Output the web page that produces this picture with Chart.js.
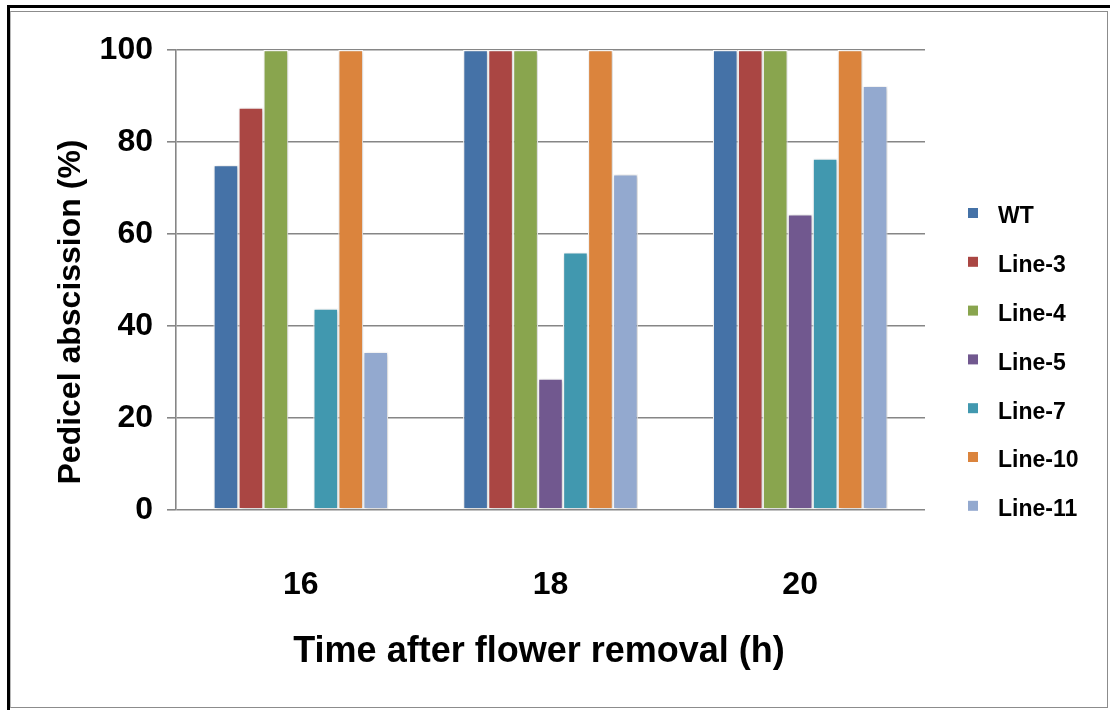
<!DOCTYPE html>
<html>
<head>
<meta charset="utf-8">
<script src="https://cdn.jsdelivr.net/npm/chart.js@4.4.1/dist/chart.umd.min.js"></script>
<style>
  html, body { margin: 0; padding: 0; background: #fff; }
  #wrap { position: relative; width: 1110px; height: 710px; overflow: hidden; }
  #frameDark {
    position: absolute; left: 7px; top: 5px; width: 1110px; height: 720px;
    border-left: 3px solid #000; border-top: 3px solid #000; box-sizing: border-box;
  }
  #frameLight {
    position: absolute; left: 10px; top: 11px; width: 1098px; height: 697px;
    border: 1.5px solid #8c8c8c; border-left-color: #b8b8b8; box-sizing: border-box;
  }
  #chart { position: absolute; left: 0; top: 0; }
</style>
</head>
<body>
<div id="wrap">
  <div id="frameDark"></div>
  <div id="frameLight"></div>
  <canvas id="chart" width="1110" height="710"></canvas>
</div>
<script>
// Hours after flower removal
const hours = ['16', '18', '20'];

// Pedicel abscission (%) per line
const wt     = [75,   100, 100];
const line3  = [87.5, 100, 100];
const line4  = [100,  100, 100];
const line5  = [0,    28.6, 64.3];
const line7  = [43.8, 56,  76.4];
const line10 = [100,  100, 100];
const line11 = [34.4, 73,  92.2];

const seriesNames = ['WT', 'Line-3', 'Line-4', 'Line-5', 'Line-7', 'Line-10', 'Line-11'];
const seriesValues = [wt, line3, line4, line5, line7, line10, line11];
const seriesColors = ['#4572A7', '#AA4643', '#89A54E', '#71588F', '#4198AF', '#DB843D', '#93A9CF'];

const yTicks = [0, 20, 40, 60, 80, 100];

const yTitle = 'Pedicel abscission (%)';
const xTitle = 'Time after flower removal (h)';

const FONT = '"Liberation Sans", Arial, sans-serif';

// soft drop shadow under each bar
const barShadow = {
  id: 'barShadow',
  beforeDatasetsDraw(chart) {
    const ctx = chart.ctx;
    ctx.save();
    ctx.shadowColor = 'rgba(0,0,0,0.22)';
    ctx.shadowBlur = 4;
    ctx.shadowOffsetX = 1;
    ctx.shadowOffsetY = 1;
  },
  afterDatasetsDraw(chart) {
    chart.ctx.restore();
  }
};

// axis titles and the series key on the right
const annotations = {
  id: 'annotations',
  afterDraw(chart) {
    const ctx = chart.ctx;
    ctx.save();
    ctx.fillStyle = '#000';
    ctx.textAlign = 'center';
    ctx.textBaseline = 'middle';
    ctx.font = 'bold 32px ' + FONT;
    ctx.translate(71, 312);
    ctx.rotate(-Math.PI / 2);
    ctx.fillText(yTitle, 0, 0);
    ctx.restore();

    ctx.save();
    ctx.fillStyle = '#000';
    ctx.textAlign = 'center';
    ctx.textBaseline = 'alphabetic';
    ctx.font = 'bold 36px ' + FONT;
    ctx.fillText(xTitle, 539, 662);
    ctx.restore();

    ctx.save();
    ctx.font = 'bold 23px ' + FONT;
    ctx.textAlign = 'left';
    ctx.textBaseline = 'middle';
    chart.data.datasets.forEach((ds, i) => {
      const cy = 216 + i * 48.8;
      ctx.fillStyle = ds.backgroundColor;
      ctx.fillRect(968, cy - 8, 10, 10);
      ctx.fillStyle = '#000';
      ctx.fillText(ds.label, 998, cy + 1);
    });
    ctx.restore();
  }
};

new Chart(document.getElementById('chart'), {
  type: 'bar',
  data: {
    labels: hours,
    datasets: seriesNames.map((name, i) => ({
      label: name,
      data: seriesValues[i],
      backgroundColor: seriesColors[i],
      borderColor: '#ffffff',
      borderWidth: 1.2,
      borderSkipped: false,
      categoryPercentage: 0.7,
      barPercentage: 1.0
    }))
  },
  options: {
    responsive: false,
    animation: false,
    devicePixelRatio: 1,
    layout: { padding: { left: 0, top: 50, right: 185, bottom: 100 } },
    plugins: {
      legend: { display: false },
      tooltip: { enabled: false }
    },
    scales: {
      x: {
        afterFit(scale) { scale.height = 100; },
        grid: { display: false, drawTicks: false },
        border: { display: false },
        ticks: {
          color: '#000',
          font: { family: FONT, size: 32, weight: 'bold' },
          padding: 56
        }
      },
      y: {
        min: 0,
        max: 100,
        afterFit(scale) { scale.width = 176; },
        afterBuildTicks(scale) { scale.ticks = yTicks.map(v => ({ value: v })); },
        grid: {
          color: '#868686',
          lineWidth: 1.6,
          tickLength: 9,
          drawTicks: true
        },
        border: { display: true, color: '#868686', width: 1.6 },
        ticks: {
          color: '#000',
          font: { family: FONT, size: 32, weight: 'bold' },
          padding: 14
        }
      }
    }
  },
  plugins: [barShadow, annotations]
});
</script>
</body>
</html>
